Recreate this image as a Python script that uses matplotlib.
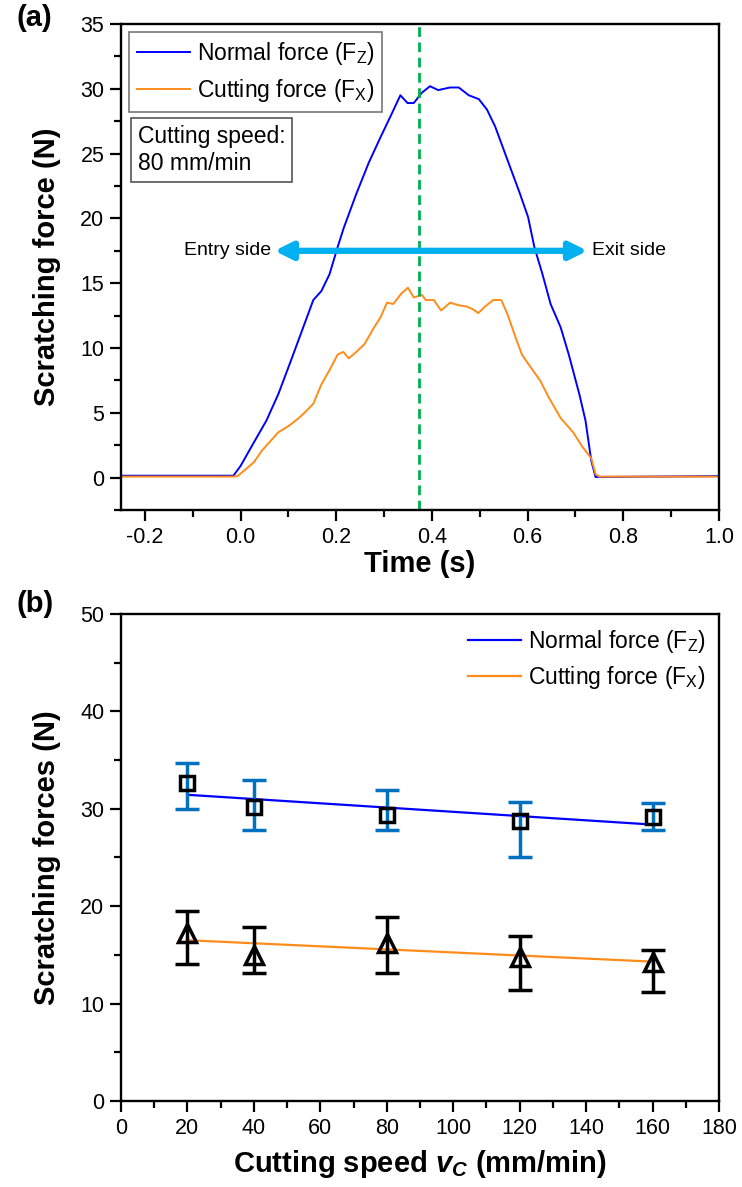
import numpy as np
import matplotlib
matplotlib.use("Agg")
import matplotlib.pyplot as plt
from matplotlib.ticker import MultipleLocator, FormatStrFormatter

plt.rcParams['font.family'] = ['Liberation Sans', 'DejaVu Sans']
plt.rcParams['mathtext.fontset'] = 'custom'
plt.rcParams['mathtext.rm'] = 'Liberation Sans'
plt.rcParams['mathtext.it'] = 'Liberation Sans:italic:bold'
plt.rcParams['mathtext.bf'] = 'Liberation Sans:bold'

# (a) force traces
t_fz = [-0.25, -0.015, 0.0, 0.026, 0.054, 0.079, 0.105, 0.131, 0.152, 0.169, 0.186,
        0.203, 0.216, 0.242, 0.268, 0.293, 0.315, 0.334, 0.349, 0.362, 0.379, 0.396,
        0.413, 0.438, 0.456, 0.477, 0.498, 0.515, 0.532, 0.558, 0.584, 0.601, 0.614,
        0.631, 0.648, 0.669, 0.686, 0.708, 0.721, 0.733, 0.742, 1.0]
fz = [0.15, 0.15, 0.9, 2.6, 4.4, 6.45, 9.0, 11.6, 13.7, 14.4, 15.7,
      17.8, 19.3, 21.9, 24.3, 26.3, 28.0, 29.5, 28.9, 28.9, 29.7, 30.2,
      29.9, 30.1, 30.1, 29.5, 29.2, 28.4, 27.1, 24.5, 21.9, 20.1, 17.8,
      15.7, 13.4, 11.6, 9.5, 6.45, 4.4, 1.3, 0.05, 0.12]

t_fx = [-0.25, -0.015, -0.006, 0.011, 0.028, 0.045, 0.062, 0.079, 0.101, 0.122, 0.139,
        0.152, 0.169, 0.186, 0.203, 0.215, 0.226, 0.242, 0.259, 0.276, 0.293, 0.306,
        0.319, 0.336, 0.350, 0.362, 0.379, 0.387, 0.404, 0.419, 0.438, 0.456, 0.473,
        0.485, 0.497, 0.511, 0.528, 0.545, 0.558, 0.575, 0.588, 0.601, 0.626, 0.644,
        0.669, 0.695, 0.716, 0.733, 0.742, 0.75, 1.0]
fx = [0.08, 0.08, 0.13, 0.65, 1.2, 2.1, 2.8, 3.5, 4.0, 4.6, 5.2,
      5.7, 7.2, 8.3, 9.5, 9.7, 9.2, 9.7, 10.3, 11.4, 12.4, 13.5,
      13.4, 14.2, 14.65, 13.9, 14.1, 13.7, 13.7, 12.9, 13.5, 13.3, 13.2,
      13.0, 12.7, 13.2, 13.7, 13.7, 12.6, 10.8, 9.5, 8.8, 7.5, 6.2,
      4.6, 3.5, 2.3, 1.5, 0.26, 0.08, 0.08]

t_mark = 0.373
arrow_from, arrow_to, arrow_y = 0.071, 0.725, 17.5

# (b) mean forces vs cutting speed
speed = [20, 40, 80, 120, 160]
fz_mean = [32.7, 30.2, 29.4, 28.7, 29.2]
fz_hi = [34.7, 33.0, 31.9, 30.7, 30.6]
fz_lo = [30.0, 27.8, 27.8, 25.0, 27.8]
fx_mean = [17.2, 15.0, 16.2, 14.8, 14.3]
fx_hi = [19.5, 17.9, 18.9, 16.9, 15.5]
fx_lo = [14.05, 13.16, 13.16, 11.44, 11.2]

blue = '#0000FF'
orange = '#FF8C1A'
lab_z = 'Normal force (F$_\\mathregular{Z}$)'
lab_x = 'Cutting force (F$_\\mathregular{X}$)'

fig = plt.figure(figsize=(7.42, 11.87), dpi=100)
ax1 = fig.add_axes([0.163, 0.5703, 0.806, 0.4095])
ax2 = fig.add_axes([0.163, 0.0725, 0.806, 0.4102])

for ax in (ax1, ax2):
    for s in ax.spines.values():
        s.set_linewidth(1.7)
    ax.tick_params(which='both', direction='out', width=1.6, labelsize=15.5,
                   top=False, right=False, pad=4)
    ax.tick_params(which='major', length=8)
    ax.tick_params(which='minor', length=5)

# panel (a)
ax1.plot(t_fz, fz, color=blue, lw=1.4, label=lab_z)
ax1.plot(t_fx, fx, color=orange, lw=1.4, label=lab_x)
ax1.axvline(t_mark, color='#00B050', ls=(0, (3.5, 2)), lw=2.0)
ax1.annotate('', xy=(arrow_from, arrow_y), xytext=(arrow_to, arrow_y),
             arrowprops=dict(arrowstyle='<|-|>', color='#00B0F0', lw=4.5,
                             mutation_scale=26, shrinkA=0, shrinkB=0))
ax1.text(arrow_from - 0.008, arrow_y, 'Entry side', ha='right', va='center', fontsize=14)
ax1.text(arrow_to + 0.01, arrow_y, 'Exit side', ha='left', va='center', fontsize=14)
ax1.set_xlim(-0.25, 1.0)
ax1.set_ylim(-2.5, 35)
ax1.xaxis.set_major_locator(MultipleLocator(0.2))
ax1.xaxis.set_minor_locator(MultipleLocator(0.1))
ax1.yaxis.set_major_locator(MultipleLocator(5))
ax1.yaxis.set_minor_locator(MultipleLocator(2.5))
ax1.xaxis.set_major_formatter(FormatStrFormatter('%.1f'))
ax1.set_xlabel('Time (s)', fontsize=21, fontweight='bold', labelpad=2)
ax1.set_ylabel('Scratching force (N)', fontsize=21, fontweight='bold')
ax1.yaxis.set_label_coords(-0.1, 0.5)
leg1 = ax1.legend(loc='upper left', fontsize=16.5, frameon=True, fancybox=False,
                  edgecolor='#555555', handlelength=2.3, handletextpad=0.3,
                  borderaxespad=0.35, labelspacing=0.42, borderpad=0.35)
leg1.get_frame().set_linewidth(1.2)
ax1.text(0.028, 0.792, 'Cutting speed:\n80 mm/min', transform=ax1.transAxes,
         ha='left', va='top', fontsize=16.5, linespacing=1.2,
         bbox=dict(boxstyle='square,pad=0.3', fc='white', ec='#555555', lw=1.2))
fig.text(0.022, 0.997, '(a)', fontsize=21, fontweight='bold', va='top')

# panel (b)
x = np.array(speed)
for mean, hi, lo, col, fit_col, mk, ms, lab in [
        (fz_mean, fz_hi, fz_lo, '#0070C0', blue, 's', 10, lab_z),
        (fx_mean, fx_hi, fx_lo, 'black', orange, '^', 13, lab_x)]:
    m = np.array(mean)
    yerr = [m - np.array(lo), np.array(hi) - m]
    k, b = np.polyfit(x, m, 1)
    ax2.plot(x, k * x + b, color=fit_col, lw=1.6, label=lab, zorder=2)
    ax2.errorbar(x, m, yerr=yerr, fmt='none', ecolor=col, elinewidth=2.5,
                 capsize=8.5, capthick=2.5, zorder=3)
    ax2.plot(x, m, ls='none', marker=mk, ms=ms, mfc='none', mec='black', mew=2.5, zorder=4)
ax2.set_xlim(0, 180)
ax2.set_ylim(0, 50)
ax2.xaxis.set_major_locator(MultipleLocator(20))
ax2.xaxis.set_minor_locator(MultipleLocator(10))
ax2.yaxis.set_major_locator(MultipleLocator(10))
ax2.yaxis.set_minor_locator(MultipleLocator(5))
ax2.set_xlabel('Cutting speed $v_C$ (mm/min)', fontsize=21, fontweight='bold', labelpad=7)
ax2.set_ylabel('Scratching forces (N)', fontsize=21, fontweight='bold')
ax2.yaxis.set_label_coords(-0.1, 0.5)
ax2.legend(loc='upper right', fontsize=16.5, frameon=False, handlelength=2.3,
           handletextpad=0.3, labelspacing=0.4, borderaxespad=0.2)
fig.text(0.022, 0.503, '(b)', fontsize=21, fontweight='bold', va='top')

fig.savefig('out.png', dpi=100)
